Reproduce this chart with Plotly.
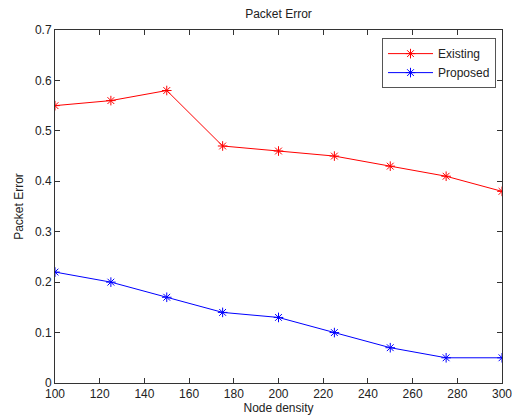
import plotly.graph_objects as go

node_density = [100, 125, 150, 175, 200, 225, 250, 275, 300]
existing = [0.55, 0.56, 0.58, 0.47, 0.46, 0.45, 0.43, 0.41, 0.38]
proposed = [0.22, 0.20, 0.17, 0.14, 0.13, 0.10, 0.07, 0.05, 0.05]
x_ticks = [100, 120, 140, 160, 180, 200, 220, 240, 260, 280, 300]
y_ticks = [0, 0.1, 0.2, 0.3, 0.4, 0.5, 0.6, 0.7]

FONT = "Liberation Sans, Arial"

fig = go.Figure()
fig.add_trace(go.Scatter(x=node_density, y=existing, mode="lines+markers", name="Existing",
                         line=dict(color="red", width=1),
                         marker=dict(symbol="asterisk-open", size=8, color="red", line=dict(color="red", width=1))))
fig.add_trace(go.Scatter(x=node_density, y=proposed, mode="lines+markers", name="Proposed",
                         line=dict(color="blue", width=1),
                         marker=dict(symbol="asterisk-open", size=8, color="blue", line=dict(color="blue", width=1))))

axis_common = dict(showgrid=False, zeroline=False, showline=True, linecolor="#333", linewidth=1,
                   mirror="ticks", ticks="inside", ticklen=5, tickcolor="#333", automargin=False,
                   ticklabeloverflow="allow",
                   tickfont=dict(family=FONT, size=12, color="#222"))
fig.update_xaxes(range=[100, 300], tickvals=x_ticks, ticktext=[str(v) for v in x_ticks],
                 title=dict(text="Node density", standoff=2, font=dict(family=FONT, size=12, color="#222")),
                 **axis_common)
fig.update_yaxes(range=[0, 0.7], tickvals=y_ticks, ticktext=["0", "0.1", "0.2", "0.3", "0.4", "0.5", "0.6", "0.7"],
                 title=dict(text="Packet Error", standoff=8, font=dict(family=FONT, size=12, color="#222")),
                 **axis_common)
fig.update_layout(
    width=512, height=419,
    margin=dict(l=55, r=10, t=30, b=36, autoexpand=False),
    paper_bgcolor="white", plot_bgcolor="white",
    title=dict(text="Packet Error", x=0.5, xref="paper", xanchor="center", y=1 - 14 / 419, yanchor="middle",
               font=dict(family=FONT, size=12, color="#222")),
    legend=dict(x=0.9866, y=0.977, xanchor="right", yanchor="top", bgcolor="white",
                bordercolor="#555", borderwidth=1,
                font=dict(family=FONT, size=12, color="#222"),
                itemwidth=45, tracegroupgap=0),
    showlegend=True,
)
fig.write_html("out.html", config={"displayModeBar": False},
               post_script="document.body.style.margin='0px';")
